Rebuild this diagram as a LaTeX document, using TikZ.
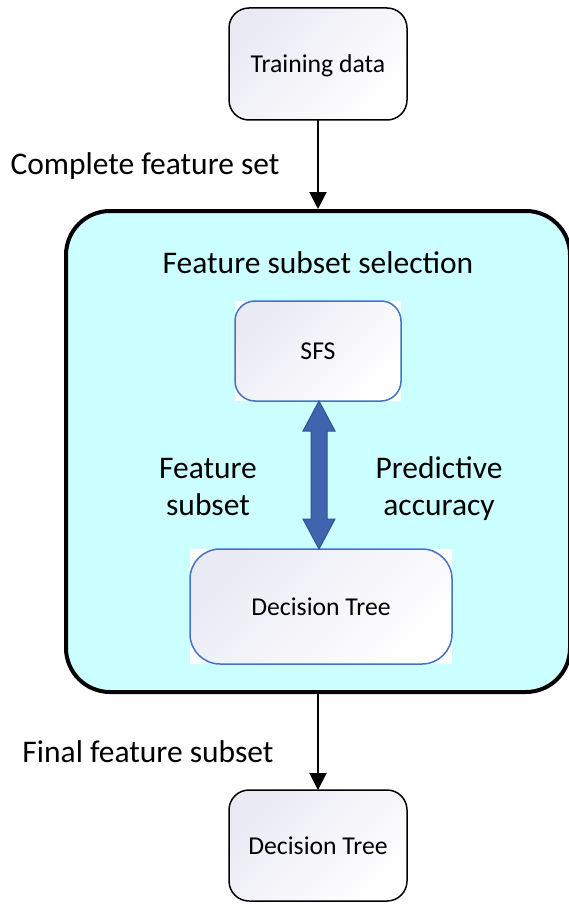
\documentclass[tikz,border=0pt]{standalone}
\usepackage{fontspec}
\setmainfont{Carlito}
\usetikzlibrary{arrows.meta,calc}
\pgfdeclarelayer{bg}
\pgfdeclarelayer{mid}
\pgfsetlayers{bg,mid,main}
\definecolor{panelcyan}{HTML}{CCFFFF}
\definecolor{boxblue}{HTML}{4472C4}
\definecolor{lavender}{HTML}{EAEAF5}
\definecolor{arrowblue}{HTML}{4065AE}
\definecolor{arrowedge}{HTML}{2F5597}
\tikzset{
  boxtext/.style={font=\fontsize{25.7}{30}\selectfont, text height=17pt, text depth=0pt},
  labeltext/.style={font=\fontsize{31.5}{37}\selectfont, align=center, inner sep=0pt},
  gradbox/.style={boxtext, inner sep=0pt, outer sep=0pt,
    top color=lavender, bottom color=white, shading angle=45},
  blackbox/.style={gradbox, draw=black, line width=1.5pt, rounded corners=20pt},
  bluebox/.style={gradbox, draw=boxblue, line width=1.5pt},
  flow/.style={draw=black, line width=2pt, -{Triangle[length=17pt,width=17pt]}},
}
\begin{document}
\begin{tikzpicture}[x=1pt,y=-1pt]
\useasboundingbox (0,0) rectangle (568,904);
\clip (0,0) rectangle (568,904);

% outer panel
\begin{pgfonlayer}{bg}
  \node[draw=black, fill=panelcyan, line width=4pt, rounded corners=44pt,
        minimum width=504pt, minimum height=481pt, inner sep=0pt] (panel) at (318,451.5) {};
\end{pgfonlayer}

% boxes
\node[blackbox, minimum width=178pt, minimum height=112pt] (train) at (318,64) {Training data};
\node[bluebox, rounded corners=20pt, minimum width=166pt, minimum height=100pt] (sfs) at (318,351) {SFS};
\node[bluebox, rounded corners=30pt, minimum width=262pt, minimum height=115pt] (dti) at (321,606.5) {Decision Tree};
\node[blackbox, minimum width=178pt, minimum height=111pt] (dto) at (318,845.5) {Decision Tree};

% white backing behind the inner boxes
\begin{pgfonlayer}{mid}
  \fill[white] (sfs.south west) rectangle (sfs.north east);
  \fill[white] (dti.south west) rectangle (dti.north east);
\end{pgfonlayer}

% labels (two-line labels are anchored at the baseline of their last line)
\node[labeltext, anchor=base] (lcomplete) at (145,175) {Complete feature set};
\node[labeltext, anchor=base] (lselect) at (318,273) {Feature subset selection};
\node[labeltext, anchor=base] (lsubset) at (208,515) {Feature\\subset};
\node[labeltext, anchor=base] (lacc) at (439,515) {Predictive\\accuracy};
\node[labeltext, anchor=base] (lfinal) at (148,762) {Final feature subset};

% flow arrows
\draw[flow] (train.south) -- (train.south |- panel.north);
\draw[flow] (panel.south -| dto.north) -- (dto.north);

% block double arrow between SFS and the decision tree
\path let \p1=(sfs.south), \p2=(dti.north) in
  [fill=arrowblue, draw=arrowedge, line width=1pt, line join=miter]
  (\x1+1pt,\y1) -- (\x1+17pt,\y1-30pt) -- (\x1+9pt,\y1-30pt) -- (\x1+9pt,\y2+30pt)
  -- (\x1+17pt,\y2+30pt) -- (\x1+1pt,\y2) -- (\x1-15pt,\y2+30pt) -- (\x1-7pt,\y2+30pt)
  -- (\x1-7pt,\y1-30pt) -- (\x1-15pt,\y1-30pt) -- cycle;
\end{tikzpicture}
\end{document}
